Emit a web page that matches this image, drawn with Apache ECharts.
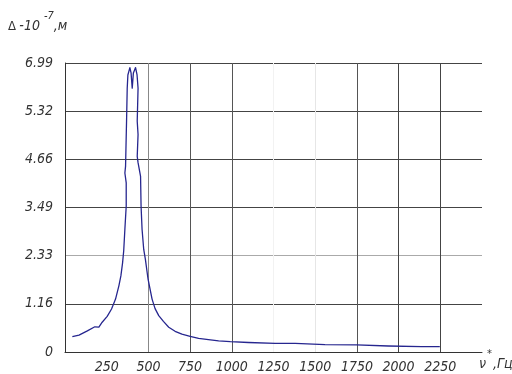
<!DOCTYPE html>
<html>
<head>
<meta charset="utf-8">
<script src="https://cdn.jsdelivr.net/npm/echarts@6/dist/echarts.min.js"></script>
<style>
  html, body { margin: 0; padding: 0; background: #fff; }
  #chart { width: 512px; height: 374px; }
</style>
</head>
<body>
<div id="chart"></div>
<script>
// frequency, Hz (the peak is traced as drawn, so x goes back and forth a little there)
const freq = [44, 84, 134, 179, 203, 223, 253, 279, 303, 323, 335, 345, 352, 359, 367, 367, 359, 363, 369, 373, 377,
  389, 396, 403, 410, 423, 432, 438, 433, 438, 433, 438, 453, 456, 462, 472, 482, 498, 522, 540, 562, 590, 622, 660,
  701, 750, 801, 860, 921, 991, 1100, 1260, 1380, 1559, 1748, 1938, 2137, 2247];
// amplitude, x1e-7 m
const ampl = [0.37, 0.41, 0.51, 0.61, 0.60, 0.72, 0.86, 1.04, 1.28, 1.60, 1.84, 2.15, 2.45, 2.97, 3.53, 4.09, 4.33, 4.49, 5.58, 6.38, 6.70,
  6.88, 6.75, 6.38, 6.75, 6.88, 6.70, 6.38, 5.58, 5.26, 4.73, 4.58, 4.25, 3.53, 2.97, 2.48, 2.24, 1.76, 1.28, 1.05, 0.88, 0.74, 0.60, 0.50,
  0.43, 0.38, 0.33, 0.30, 0.27, 0.25, 0.23, 0.21, 0.21, 0.18, 0.17, 0.145, 0.13, 0.13];
// printed y tick labels (as on the original drawing)
const yLabels = ['0', '1.16', '2.33', '3.49', '4.66', '5.32', '6.99'];

const font = "'Liberation Sans Narrow', 'DejaVu Sans Condensed', sans-serif";

const chart = echarts.init(document.getElementById('chart'));
chart.setOption({
  animation: false,
  grid: { left: 65, right: 30, top: 63, bottom: 21 },
  xAxis: {
    type: 'value',
    min: 0,
    max: 2500,
    interval: 250,
    axisLine: { lineStyle: { color: '#333', width: 1 } },
    axisTick: { show: false },
    axisLabel: {
      margin: 8,
      color: '#333',
      fontFamily: font,
      fontStyle: 'italic',
      fontSize: 14,
      formatter: v => (v === 0 || v === 2500) ? '' : String(v)
    },
    splitLine: {
      show: true,
      lineStyle: {
        width: 1,
        color: ['#333', 'rgba(0,0,0,0)', '#888', '#555', '#555', '#f2f2f2', '#e6e6e6', '#555', '#444', '#444', 'rgba(0,0,0,0)']
      }
    }
  },
  yAxis: {
    type: 'value',
    min: 0,
    max: 6.99,
    interval: 1.165,
    axisLine: { show: true, lineStyle: { color: '#333', width: 1 } },
    axisTick: { show: false },
    axisLabel: {
      margin: 12,
      color: '#333',
      fontFamily: font,
      fontStyle: 'italic',
      fontSize: 14,
      formatter: v => yLabels[Math.round(v / 1.165)]
    },
    splitLine: {
      show: true,
      lineStyle: { width: 1, color: ['#444', '#444', '#aaa', '#444', '#444', '#444', '#444'] }
    }
  },
  graphic: [
    {
      type: 'text', left: 8, top: 11,
      style: {
        text: '{d|Δ} {a|-10 }{s|-7}{a|,м}',
        rich: {
          d: { fontFamily: font, fontSize: 13, fill: '#333', verticalAlign: 'bottom', lineHeight: 22 },
          a: { fontFamily: font, fontStyle: 'italic', fontSize: 14, fill: '#333', verticalAlign: 'bottom', lineHeight: 22 },
          s: { fontFamily: font, fontStyle: 'italic', fontSize: 11, fill: '#333', verticalAlign: 'top', lineHeight: 22, padding: [0, 0, 10, 0] }
        }
      }
    },
    {
      type: 'text', left: 479, top: 349,
      style: {
        text: '{a|ν}{s|*}{a|,Гц}',
        rich: {
          a: { fontFamily: font, fontStyle: 'italic', fontSize: 14, fill: '#333', verticalAlign: 'bottom', lineHeight: 22 },
          s: { fontFamily: font, fontSize: 11, fill: '#333', verticalAlign: 'top', lineHeight: 22, padding: [0, 1, 10, 1] }
        }
      }
    }
  ],
  series: [{
    type: 'line',
    data: freq.map((f, i) => [f, ampl[i]]),
    showSymbol: false,
    smooth: false,
    lineStyle: { color: '#26268f', width: 1.3, join: 'round' }
  }]
});
</script>
</body>
</html>
